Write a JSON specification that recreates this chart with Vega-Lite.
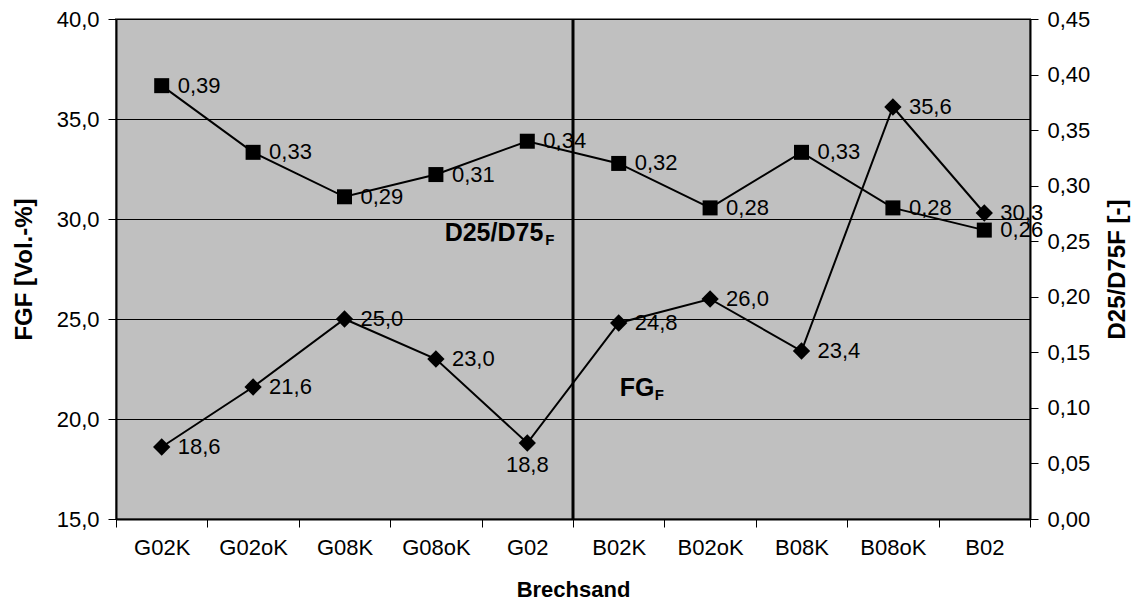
{
  "$schema": "https://vega.github.io/schema/vega-lite/v6.json",
  "width": 914,
  "height": 500,
  "autosize": {"type": "none"},
  "padding": {"left": 116, "top": 19, "right": 114, "bottom": 89},
  "background": "white",
  "config": {
    "locale": {"number": {"decimal": ",", "thousands": ".", "grouping": [3], "currency": ["", " €"]}},
    "font": "Liberation Sans",
    "view": {"fill": "#C0C0C0", "stroke": "#808080", "strokeWidth": 2},
    "axis": {
      "labelFont": "Liberation Sans", "labelFontSize": 22, "labelColor": "black",
      "titleFont": "Liberation Sans", "titleFontSize": 24, "titleFontWeight": "bold", "titleColor": "black",
      "domainColor": "black", "domainWidth": 2, "tickColor": "black", "tickWidth": 1, "tickSize": 8,
      "labelPadding": 9
    }
  },
  "data": {"values": [
    {"cat": "G02K", "FG": 18.6, "D": 0.39},
    {"cat": "G02oK", "FG": 21.6, "D": 0.33},
    {"cat": "G08K", "FG": 25.0, "D": 0.29},
    {"cat": "G08oK", "FG": 23.0, "D": 0.31},
    {"cat": "G02", "FG": 18.8, "D": 0.34},
    {"cat": "B02K", "FG": 24.8, "D": 0.32},
    {"cat": "B02oK", "FG": 26.0, "D": 0.28},
    {"cat": "B08K", "FG": 23.4, "D": 0.33},
    {"cat": "B08oK", "FG": 35.6, "D": 0.28},
    {"cat": "B02", "FG": 30.3, "D": 0.26}
  ]},
  "encoding": {
    "x": {
      "field": "cat", "type": "nominal", "sort": null,
      "scale": {"type": "band", "paddingInner": 0, "paddingOuter": 0},
      "axis": {"tickBand": "extent", "labelAngle": 0, "labelPadding": 10, "title": "Brechsand", "titleFontSize": 22, "titlePadding": 21}
    }
  },
  "layer": [
    {
      "layer": [
        {
          "mark": {"type": "line", "color": "black", "strokeWidth": 2},
          "encoding": {
            "y": {
              "field": "FG", "type": "quantitative",
              "scale": {"domain": [15, 40], "nice": false, "zero": false},
              "axis": {"orient": "left", "values": [15, 20, 25, 30, 35, 40], "format": ".1f", "grid": true, "gridColor": "black", "gridOpacity": 1, "gridWidth": 1, "title": "FGF [Vol.-%]", "titlePadding": 20}
            }
          }
        },
        {
          "mark": {"type": "point", "shape": "diamond", "filled": true, "color": "black", "size": 300, "opacity": 1},
          "encoding": {"y": {"field": "FG", "type": "quantitative"}}
        },
        {
          "transform": [{"filter": "datum.cat !== 'G02'"}],
          "mark": {"type": "text", "align": "left", "baseline": "middle", "dx": 16, "fontSize": 22, "color": "black"},
          "encoding": {
            "y": {"field": "FG", "type": "quantitative"},
            "text": {"field": "FG", "type": "quantitative", "format": ".1f"}
          }
        },
        {
          "transform": [{"filter": "datum.cat === 'G02'"}],
          "mark": {"type": "text", "align": "center", "baseline": "top", "dy": 12, "fontSize": 22, "color": "black"},
          "encoding": {
            "y": {"field": "FG", "type": "quantitative"},
            "text": {"field": "FG", "type": "quantitative", "format": ".1f"}
          }
        },
        {
          "data": {"values": [{"t": "D25/D75"}]},
          "mark": {"type": "text", "align": "right", "baseline": "alphabetic", "dx": 16, "fontSize": 25, "fontWeight": "bold", "color": "black"},
          "encoding": {
            "x": {"datum": "G02"},
            "y": {"datum": 28.88, "type": "quantitative"},
            "text": {"field": "t"}
          }
        },
        {
          "data": {"values": [{"t": "F"}]},
          "mark": {"type": "text", "align": "left", "baseline": "alphabetic", "dx": 18, "fontSize": 15, "fontWeight": "bold", "color": "black"},
          "encoding": {
            "x": {"datum": "G02"},
            "y": {"datum": 28.72, "type": "quantitative"},
            "text": {"field": "t"}
          }
        },
        {
          "data": {"values": [{"t": "FG"}]},
          "mark": {"type": "text", "align": "left", "baseline": "alphabetic", "dx": 1, "fontSize": 25, "fontWeight": "bold", "color": "black"},
          "encoding": {
            "x": {"datum": "B02K"},
            "y": {"datum": 21.13, "type": "quantitative"},
            "text": {"field": "t"}
          }
        },
        {
          "data": {"values": [{"t": "F"}]},
          "mark": {"type": "text", "align": "left", "baseline": "alphabetic", "dx": 36, "fontSize": 15, "fontWeight": "bold", "color": "black"},
          "encoding": {
            "x": {"datum": "B02K"},
            "y": {"datum": 20.93, "type": "quantitative"},
            "text": {"field": "t"}
          }
        }
      ]
    },
    {
      "layer": [
        {
          "mark": {"type": "line", "color": "black", "strokeWidth": 2},
          "encoding": {
            "y": {
              "field": "D", "type": "quantitative",
              "scale": {"domain": [0, 0.45], "nice": false, "zero": false},
              "axis": {"orient": "right", "values": [0, 0.05, 0.1, 0.15, 0.2, 0.25, 0.3, 0.35, 0.4, 0.45], "format": ".2f", "grid": false, "title": "D25/D75F [-]", "titleAngle": 270, "titlePadding": 40}
            }
          }
        },
        {
          "mark": {"type": "point", "shape": "square", "filled": true, "color": "black", "size": 225, "opacity": 1},
          "encoding": {"y": {"field": "D", "type": "quantitative"}}
        },
        {
          "mark": {"type": "text", "align": "left", "baseline": "middle", "dx": 16, "fontSize": 22, "color": "black"},
          "encoding": {
            "y": {"field": "D", "type": "quantitative"},
            "text": {"field": "D", "type": "quantitative", "format": ".2f"}
          }
        }
      ]
    },
    {
      "data": {"values": [{"sep": "B02K"}]},
      "mark": {"type": "rule", "color": "black", "strokeWidth": 3},
      "encoding": {
        "x": {"field": "sep", "type": "nominal", "bandPosition": 0}
      }
    }
  ],
  "resolve": {"scale": {"y": "independent"}}
}
